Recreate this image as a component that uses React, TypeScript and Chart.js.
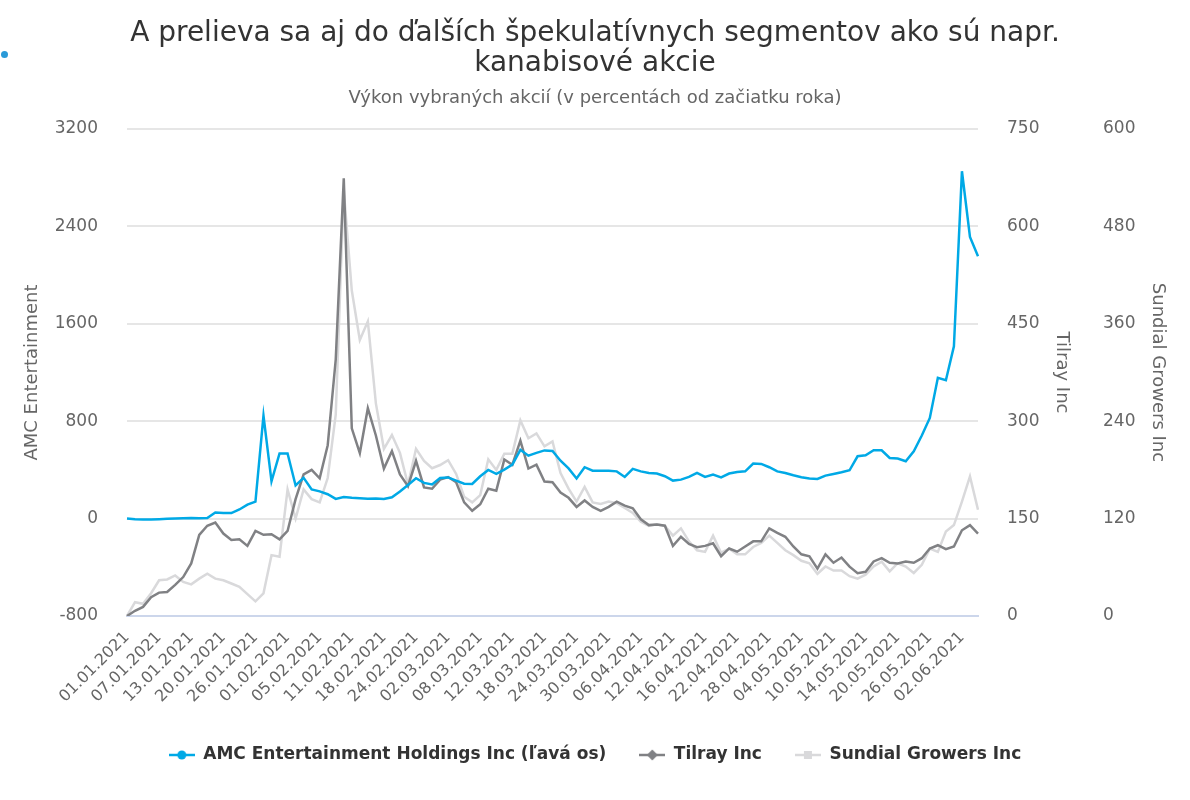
import React, { useEffect, useRef } from 'react';
import { Chart, registerables } from 'chart.js';

Chart.register(...registerables);

const titleLines = ['A prelieva sa aj do ďalších špekulatívnych segmentov ako sú napr.', 'kanabisové akcie'];
const subtitleText = 'Výkon vybraných akcií (v percentách od začiatku roka)';

const dates = [
  '01.01.2021',
  '04.01.2021', '05.01.2021', '06.01.2021', '07.01.2021', '08.01.2021',
  '11.01.2021', '12.01.2021', '13.01.2021', '14.01.2021', '15.01.2021',
  '19.01.2021', '20.01.2021', '21.01.2021', '22.01.2021',
  '25.01.2021', '26.01.2021', '27.01.2021', '28.01.2021', '29.01.2021',
  '01.02.2021', '02.02.2021', '03.02.2021', '04.02.2021', '05.02.2021',
  '08.02.2021', '09.02.2021', '10.02.2021', '11.02.2021', '12.02.2021',
  '16.02.2021', '17.02.2021', '18.02.2021', '19.02.2021',
  '22.02.2021', '23.02.2021', '24.02.2021', '25.02.2021', '26.02.2021',
  '01.03.2021', '02.03.2021', '03.03.2021', '04.03.2021', '05.03.2021',
  '08.03.2021', '09.03.2021', '10.03.2021', '11.03.2021', '12.03.2021',
  '15.03.2021', '16.03.2021', '17.03.2021', '18.03.2021', '19.03.2021',
  '22.03.2021', '23.03.2021', '24.03.2021', '25.03.2021', '26.03.2021',
  '29.03.2021', '30.03.2021', '31.03.2021', '01.04.2021',
  '05.04.2021', '06.04.2021', '07.04.2021', '08.04.2021', '09.04.2021',
  '12.04.2021', '13.04.2021', '14.04.2021', '15.04.2021', '16.04.2021',
  '19.04.2021', '20.04.2021', '21.04.2021', '22.04.2021', '23.04.2021',
  '26.04.2021', '27.04.2021', '28.04.2021', '29.04.2021', '30.04.2021',
  '03.05.2021', '04.05.2021', '05.05.2021', '06.05.2021', '07.05.2021',
  '10.05.2021', '11.05.2021', '12.05.2021', '13.05.2021', '14.05.2021',
  '17.05.2021', '18.05.2021', '19.05.2021', '20.05.2021', '21.05.2021',
  '24.05.2021', '25.05.2021', '26.05.2021', '27.05.2021', '28.05.2021',
  '01.06.2021', '02.06.2021', '03.06.2021', '04.06.2021',
];

const amcValues = [
  0, -5, -8, -7, -5, -2, 0, 3, 5, 2,
  4, 50, 45, 45, 75, 115, 140, 845, 306, 535,
  535, 272, 335, 240, 224, 200, 162, 178, 171, 168,
  164, 165, 162, 175, 222, 276, 332, 293, 280, 333,
  338, 312, 287, 285, 348, 400, 368, 402, 444, 565,
  517, 540, 560, 556, 475, 412, 330, 422, 394, 394,
  394, 388, 342, 408, 388, 375, 370, 348, 312, 320,
  342, 375, 342, 361, 339, 370, 383, 388, 452, 449,
  422, 388, 375, 356, 340, 329, 326, 353, 367, 381,
  397, 512, 520, 561, 561, 498, 493, 471, 553, 682,
  827, 1156, 1136, 1415, 2853, 2314, 2155,
];

const tilrayValues = [
  0, 8, 14, 29, 36, 37, 48, 60, 81, 125,
  139, 144, 127, 117, 118, 108, 131, 125, 126, 118,
  131, 180, 218, 225, 212, 263, 395, 674, 289, 251,
  320, 278, 227, 254, 218, 200, 239, 198, 196, 210,
  214, 206, 175, 162, 172, 196, 193, 241, 233, 270,
  227, 233, 207, 206, 190, 182, 168, 178, 168, 162,
  168, 176, 170, 166, 149, 140, 141, 139, 108, 122,
  111, 106, 108, 112, 92, 104, 99, 107, 115, 115,
  135, 128, 122, 107, 95, 92, 73, 95, 82, 90,
  76, 66, 68, 84, 89, 82, 81, 84, 82, 89,
  104, 109, 103, 107, 132, 140, 127,
];

const sundialValues = [
  0, 17, 15, 28, 44, 45, 50, 42, 39, 46,
  52, 46, 44, 40, 36, 27, 18, 28, 75, 73,
  156, 120, 156, 144, 140, 170, 248, 525, 401, 340,
  363, 262, 206, 223, 201, 162, 206, 191, 182, 186,
  192, 175, 147, 140, 149, 193, 180, 200, 200, 241,
  219, 225, 209, 215, 176, 157, 141, 159, 140, 138,
  141, 139, 133, 127, 116, 111, 113, 111, 99, 108,
  92, 81, 79, 99, 78, 83, 76, 76, 85, 90,
  99, 90, 81, 75, 68, 65, 52, 61, 56, 56,
  49, 46, 51, 61, 67, 55, 65, 61, 53, 63,
  83, 79, 104, 112, 141, 172, 131,
];

const amcTicks = [-800, 0, 800, 1600, 2400, 3200];
const tilrayTicks = [0, 150, 300, 450, 600, 750];
const sundialTicks = [0, 120, 240, 360, 480, 600];

const seriesNames = ['AMC Entertainment Holdings Inc (ľavá os)', 'Tilray Inc', 'Sundial Growers Inc'];
const axisTitles = ['AMC Entertainment', 'Tilray Inc', 'Sundial Growers Inc'];

const BLUE = '#00a9e6';
const DARK = '#808184';
const LIGHT = '#d9d9db';
const FONT = "'DejaVu Sans', sans-serif";

function makeMarker(color: string, shape: string) {
  const c = document.createElement('canvas');
  c.width = 26;
  c.height = 12;
  const g = c.getContext('2d') as CanvasRenderingContext2D;
  g.strokeStyle = color;
  g.lineWidth = 2.5;
  g.beginPath();
  g.moveTo(0, 6);
  g.lineTo(26, 6);
  g.stroke();
  g.fillStyle = color;
  if (shape === 'circle') {
    g.beginPath();
    g.arc(13, 6, 4.5, 0, Math.PI * 2);
    g.fill();
  } else if (shape === 'diamond') {
    g.beginPath();
    g.moveTo(13, 0.5);
    g.lineTo(18.5, 6);
    g.lineTo(13, 11.5);
    g.lineTo(7.5, 6);
    g.closePath();
    g.fill();
  } else {
    g.fillRect(9, 2, 8, 8);
  }
  return c;
}

const plainTick = (v: any) => String(v);

export default function App() {
  const canvasRef = useRef<HTMLCanvasElement | null>(null);

  useEffect(() => {
    if (!canvasRef.current) return;
    Chart.defaults.font.family = FONT;
    const markers = [makeMarker(BLUE, 'circle'), makeMarker(DARK, 'diamond'), makeMarker(LIGHT, 'square')];

    const chart = new Chart(canvasRef.current, {
      type: 'line',
      data: {
        labels: dates,
        datasets: [
          { label: seriesNames[0], data: amcValues, yAxisID: 'yAmc', borderColor: BLUE, backgroundColor: BLUE, borderWidth: 2.5, pointRadius: 0, tension: 0 },
          { label: seriesNames[1], data: tilrayValues, yAxisID: 'yTilray', borderColor: DARK, backgroundColor: DARK, borderWidth: 2.5, pointRadius: 0, tension: 0 },
          { label: seriesNames[2], data: sundialValues, yAxisID: 'ySundial', borderColor: LIGHT, backgroundColor: LIGHT, borderWidth: 2.5, pointRadius: 0, tension: 0 },
        ],
      },
      options: {
        responsive: false,
        animation: false,
        devicePixelRatio: 1,
        layout: { padding: { top: 0, left: 0, right: 0, bottom: 26.5 } },
        plugins: {
          tooltip: { enabled: false },
          title: {
            display: true,
            text: titleLines,
            color: '#333333',
            font: { size: 28, weight: 'normal', lineHeight: 30 / 28 },
            padding: { top: 19, bottom: 0 },
          },
          subtitle: {
            display: true,
            text: subtitleText,
            color: '#666666',
            font: { size: 18, weight: 'normal', lineHeight: 1.2 },
            padding: { top: 8.8, bottom: 19.6 },
          },
          legend: {
            display: true,
            position: 'bottom',
            labels: {
              usePointStyle: true,
              pointStyleWidth: 26,
              padding: 33,
              color: '#333333',
              font: { size: 17, weight: 'bold' },
              generateLabels: (ch: any) => {
                const items = (Chart.defaults.plugins.legend.labels as any).generateLabels(ch);
                items.forEach((it: any, i: number) => {
                  it.pointStyle = markers[i];
                });
                return items;
              },
            },
          },
        },
        scales: {
          x: {
            type: 'category',
            offset: false,
            grid: { display: false, drawTicks: false },
            border: { display: true, color: '#ccd6eb', width: 2 },
            ticks: {
              autoSkip: false,
              maxRotation: 45,
              minRotation: 45,
              padding: 12,
              color: '#666666',
              font: { size: 16 },
              callback: (_v: any, i: number) => (i % 4 === 0 ? dates[i] : null),
            },
            afterFit: (s: any) => {
              s.height = 97.5;
            },
          },
          yAmc: {
            type: 'linear',
            position: 'left',
            min: -800,
            max: 3200,
            afterBuildTicks: (s: any) => {
              s.ticks = amcTicks.map((v) => ({ value: v }));
            },
            grid: {
              drawTicks: false,
              lineWidth: 2,
              color: (ctx: any) => (ctx.tick && ctx.tick.value === -800 ? 'rgba(0,0,0,0)' : '#e6e6e6'),
            },
            border: { display: false },
            ticks: { padding: 29, color: '#666666', font: { size: 17 }, callback: plainTick },
            title: { display: true, text: axisTitles[0], color: '#666666', font: { size: 18 }, padding: { top: 22, bottom: 0 } },
            afterFit: (s: any) => {
              s.width = 127;
            },
          },
          yTilray: {
            type: 'linear',
            position: 'right',
            min: 0,
            max: 750,
            afterBuildTicks: (s: any) => {
              s.ticks = tilrayTicks.map((v) => ({ value: v }));
            },
            grid: { display: false, drawTicks: false },
            border: { display: false },
            ticks: { padding: 29, color: '#666666', font: { size: 17 }, callback: plainTick },
            title: { display: true, text: axisTitles[1], color: '#666666', font: { size: 18 }, padding: { top: 2, bottom: 0 } },
            afterFit: (s: any) => {
              s.width = 96;
            },
          },
          ySundial: {
            type: 'linear',
            position: 'right',
            min: 0,
            max: 600,
            afterBuildTicks: (s: any) => {
              s.ticks = sundialTicks.map((v) => ({ value: v }));
            },
            grid: { display: false, drawTicks: false },
            border: { display: false },
            ticks: { padding: 29, color: '#666666', font: { size: 17 }, callback: plainTick },
            title: { display: true, text: axisTitles[2], color: '#666666', font: { size: 18 }, padding: { top: 22, bottom: 0 } },
            afterFit: (s: any) => {
              s.width = 116;
            },
          },
        },
      } as any,
    });

    return () => {
      chart.destroy();
    };
  }, []);

  return (
    <div style={{ position: 'absolute', left: 0, top: 0, width: 1190, height: 800, background: '#ffffff' }}>
      <canvas ref={canvasRef} width={1190} height={800} style={{ display: 'block' }} />
      <div style={{ position: 'absolute', left: 1, top: 51, width: 7, height: 7, borderRadius: '50%', background: '#2a9ad8' }} />
    </div>
  );
}
